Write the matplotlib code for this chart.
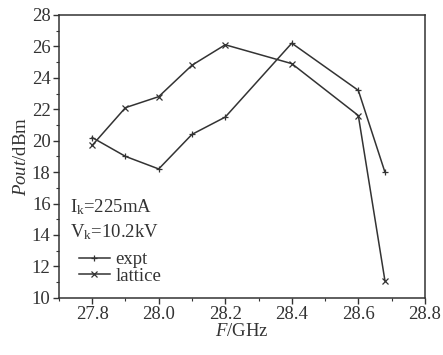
import matplotlib.pyplot as plt
from matplotlib.ticker import MultipleLocator

plt.rcParams["font.family"] = ["Liberation Serif", "DejaVu Serif"]
plt.rcParams["mathtext.fontset"] = "custom"
plt.rcParams["mathtext.rm"] = "Liberation Serif"
plt.rcParams["mathtext.it"] = "Liberation Serif:italic"

# data
freq = [27.8, 27.9, 28.0, 28.1, 28.2, 28.4, 28.6, 28.68]
expt = [20.2, 19.0, 18.2, 20.4, 21.5, 26.2, 23.2, 18.0]
lattice = [19.7, 22.1, 22.8, 24.8, 26.1, 24.9, 21.6, 11.1]

x_ticks = [27.8, 28.0, 28.2, 28.4, 28.6, 28.8]
y_ticks = [10, 12, 14, 16, 18, 20, 22, 24, 26, 28]

col = "#333333"
fs = 13.5

fig = plt.figure(figsize=(4.43, 3.55), dpi=100)
ax = fig.add_axes([0.133, 0.161, 0.826, 0.797])

ax.plot(freq, expt, color=col, lw=1.1, marker="+", ms=5, mew=0.9, label="expt")
ax.plot(freq, lattice, color=col, lw=1.1, marker="x", ms=5, mew=0.9, label="lattice")

ax.set_xlim(27.7, 28.8)
ax.set_ylim(10, 28)
ax.set_xticks(x_ticks)
ax.set_xticklabels([f"{v:.1f}" for v in x_ticks])
ax.set_yticks(y_ticks)
ax.xaxis.set_minor_locator(MultipleLocator(0.1))
ax.yaxis.set_minor_locator(MultipleLocator(1))
ax.tick_params(which="major", direction="out", length=4, width=1, labelsize=fs, colors=col, pad=2)
ax.tick_params(which="minor", direction="out", length=2.5, width=0.8, colors=col)
for s in ax.spines.values():
    s.set_color(col)
    s.set_linewidth(1.1)

ax.set_xlabel("$\\mathit{F}$/GHz", fontsize=fs, color=col, labelpad=0)
ax.set_ylabel("$\\mathit{Pout}$/dBm", fontsize=fs, color=col, labelpad=1)

ax.text(27.733, 15.8, "I$_\\mathrm{k}$=225mA", fontsize=fs, color=col, va="center")
ax.text(27.733, 14.2, "V$_\\mathrm{k}$=10.2kV", fontsize=fs, color=col, va="center")

leg = ax.legend(loc="center left", bbox_to_anchor=(27.76, 11.9),
                bbox_transform=ax.transData, frameon=False,
                fontsize=fs, handlelength=1.65, handletextpad=0.3,
                labelspacing=-0.05, borderpad=0, borderaxespad=0, numpoints=1)
for t in leg.get_texts():
    t.set_color(col)

fig.savefig("out.png", dpi=100)
